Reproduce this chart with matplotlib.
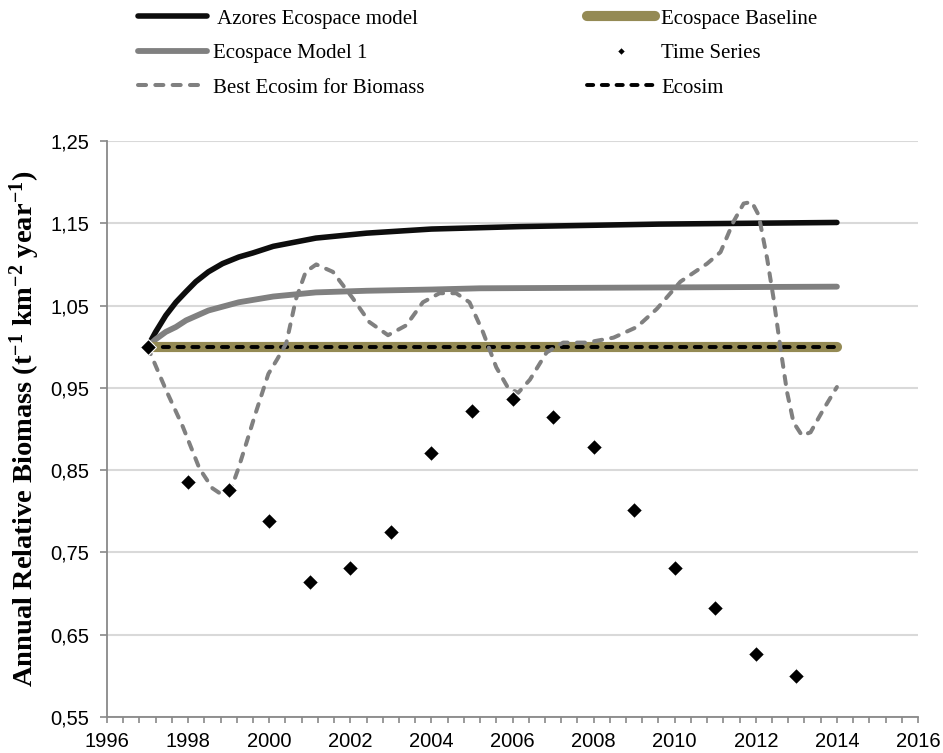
import numpy as np
import matplotlib
matplotlib.use("Agg")
import matplotlib.pyplot as plt
from matplotlib.ticker import MultipleLocator, FixedLocator, FuncFormatter

plt.rcParams['font.family'] = ['Liberation Sans', 'DejaVu Sans']
plt.rcParams['mathtext.fontset'] = 'custom'
plt.rcParams['mathtext.rm'] = 'Liberation Serif:bold'
plt.rcParams['mathtext.it'] = 'Liberation Serif:bold'
plt.rcParams['mathtext.bf'] = 'Liberation Serif:bold'

# observed time series
ts_years = [1997, 1998, 1999, 2000, 2001, 2002, 2003, 2004, 2005,
            2006, 2007, 2008, 2009, 2010, 2011, 2012, 2013]
ts_vals = [1.000, 0.835, 0.826, 0.788, 0.714, 0.731, 0.775, 0.871, 0.922,
           0.936, 0.914, 0.878, 0.801, 0.731, 0.683, 0.626, 0.600]

# model curves
azores_x = [1997, 1997.2, 1997.45, 1997.7, 1997.95, 1998.19, 1998.5, 1998.85,
            1999.25, 1999.6, 2000.1, 2001.15, 2002.4, 2004.0, 2006.2, 2009.6, 2014]
azores_y = [1.000, 1.018, 1.038, 1.054, 1.067, 1.079, 1.091, 1.101,
            1.109, 1.114, 1.122, 1.132, 1.138, 1.143, 1.146, 1.149, 1.151]

model1_x = [1997, 1997.2, 1997.45, 1997.7, 1997.95, 1998.5, 1999.25, 2000.1,
            2001.15, 2002.4, 2004.0, 2005.2, 2014]
model1_y = [1.000, 1.009, 1.018, 1.024, 1.032, 1.044, 1.054, 1.061,
            1.066, 1.068, 1.0695, 1.071, 1.073]

baseline_x = [1997, 2014]
baseline_y = [1.0, 1.0]

ecosim_x = [1997, 2014]
ecosim_y = [1.0, 1.0]

best_x = [1997.0, 1997.45, 1997.86, 1998.28, 1998.6, 1998.84, 1999.05, 1999.24,
          1999.45, 1999.65, 1999.98, 2000.2, 2000.42, 2000.66, 2000.9, 2001.16,
          2001.57, 2002.06, 2002.47, 2002.93, 2003.38, 2003.79, 2004.2, 2004.61,
          2004.94, 2005.27, 2005.6, 2005.89, 2006.14, 2006.43, 2006.84, 2007.25,
          2007.83, 2008.49, 2009.07, 2009.56, 2010.14, 2010.8, 2011.13, 2011.45,
          2011.7, 2011.9, 2012.07, 2012.28, 2012.44, 2012.6, 2012.77, 2012.93,
          2013.14, 2013.35, 2013.67, 2014.0]
best_y = [1.000, 0.948, 0.904, 0.852, 0.828, 0.820, 0.826, 0.852,
          0.885, 0.917, 0.967, 0.985, 1.004, 1.058, 1.091, 1.100,
          1.091, 1.059, 1.030, 1.014, 1.026, 1.054, 1.065, 1.065,
          1.054, 1.018, 0.975, 0.950, 0.944, 0.960, 0.993, 1.005,
          1.005, 1.011, 1.024, 1.046, 1.079, 1.101, 1.115, 1.152,
          1.174, 1.176, 1.160, 1.107, 1.058, 1.001, 0.945, 0.908,
          0.892, 0.896, 0.924, 0.951]

y_ticks = [0.55, 0.65, 0.75, 0.85, 0.95, 1.05, 1.15, 1.25]

fig = plt.figure(figsize=(9.43, 7.53), dpi=100)
ax = fig.add_axes([107/943, 1 - 717/753, (918 - 107)/943, (717 - 141)/753])

l_az, = ax.plot(azores_x, azores_y, color='#0d0d0d', lw=4,
                solid_capstyle='round', solid_joinstyle='round', zorder=3)
l_m1, = ax.plot(model1_x, model1_y, color='#808080', lw=4.2,
                solid_capstyle='round', solid_joinstyle='round', zorder=3)
l_base, = ax.plot(baseline_x, baseline_y, color='#948a54', lw=7.3,
                  solid_capstyle='round', zorder=3)
l_eco, = ax.plot(ecosim_x, ecosim_y, color='black', lw=2.8,
                 linestyle=(0, (1.6, 2.2)), dash_capstyle='round', zorder=4)
l_best, = ax.plot(best_x, best_y, color='#808080', lw=2.9,
                  linestyle=(0, (2.0, 2.3)), dash_capstyle='round',
                  solid_joinstyle='round', zorder=5)
l_ts, = ax.plot(ts_years, ts_vals, linestyle='none', marker='D', ms=8,
                mfc='black', mec='white', mew=0.8, zorder=6)

ax.set_xlim(1996, 2016)
ax.set_ylim(0.55, 1.25)
ax.xaxis.set_major_locator(MultipleLocator(2))
ax.xaxis.set_minor_locator(MultipleLocator(0.4))
ax.yaxis.set_major_locator(FixedLocator(y_ticks))
ax.yaxis.set_major_formatter(FuncFormatter(lambda v, p: f"{v:.2f}".replace('.', ',')))

ax.grid(axis='y', color='#d9d9d9', lw=1.5)
ax.set_axisbelow(True)
for s in ['top', 'right']:
    ax.spines[s].set_visible(False)
for s in ['left', 'bottom']:
    ax.spines[s].set_color('#898989')
    ax.spines[s].set_linewidth(1.3)
ax.tick_params(axis='both', which='both', direction='out', color='#898989',
               width=1.2, labelsize=14.5, labelcolor='black')
ax.tick_params(axis='x', which='both', length=4.5, pad=6)
ax.tick_params(axis='y', length=5, pad=8)
ax.tick_params(axis='y', which='minor', left=False)

ax.set_ylabel(r'Annual Relative Biomass (t$^{-1}$ km$^{-2}$ year$^{-1}$)',
              family='Liberation Serif', weight='bold', fontsize=20.5, labelpad=6)

handles = [l_az, l_m1, l_best, l_base, l_ts, l_eco]
labels = [' Azores Ecospace model', 'Ecospace Model 1', 'Best Ecosim for Biomass',
          'Ecospace Baseline', 'Time Series', 'Ecosim']
fig.legend(handles, labels, loc='upper left', bbox_to_anchor=(138/943, 0.988),
           ncol=2, frameon=False, prop={'family': 'Liberation Serif', 'size': 15},
           handlelength=3.3, handletextpad=0.28, columnspacing=7.8,
           labelspacing=0.72, borderpad=0, borderaxespad=0, markerscale=0.5)

fig.savefig('out.png', dpi=100)
